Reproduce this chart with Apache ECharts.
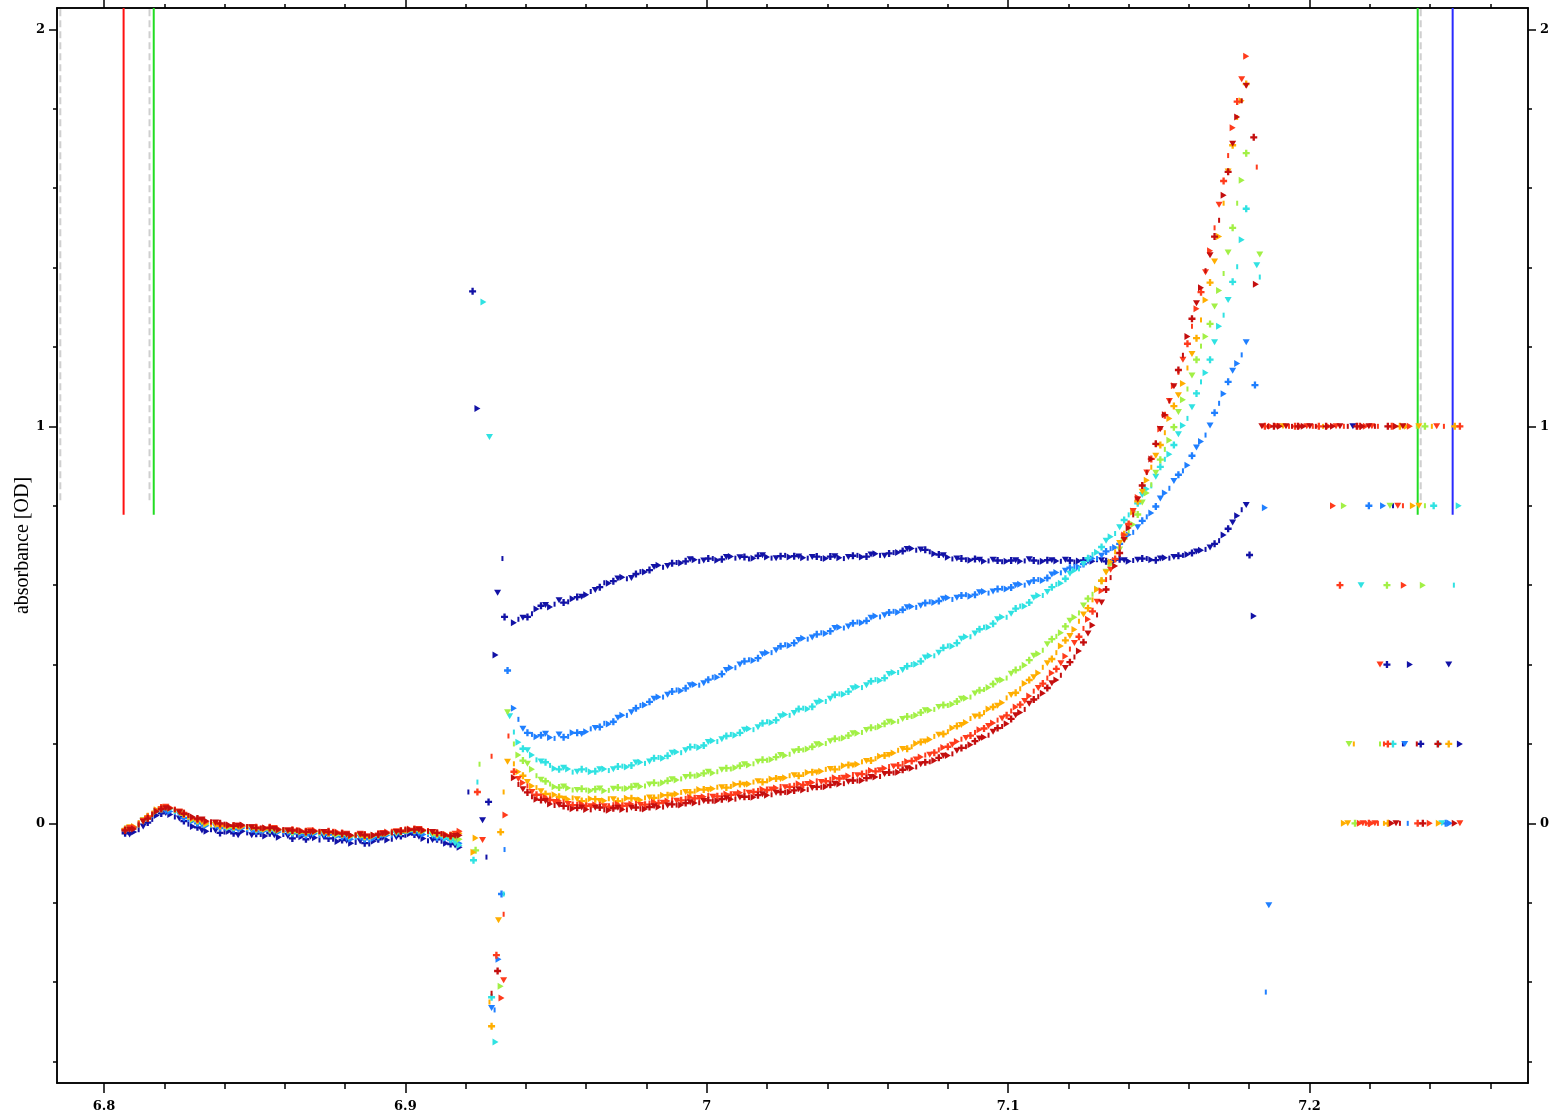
<!DOCTYPE html>
<html>
<head>
<meta charset="utf-8">
<script src="https://cdn.jsdelivr.net/npm/echarts@6/dist/echarts.min.js"></script>
<style>
  html, body { margin: 0; padding: 0; background: #ffffff; }
  #chart { width: 1553px; height: 1118px; }
</style>
</head>
<body>
<div id="chart"></div>
<script>
// ---- axis ranges and ticks ----
const X_MIN = 6.7844, X_MAX = 7.2725;
const Y_MIN = -0.654, Y_MAX = 2.0537;
const xMajorTicks = [6.8, 6.9, 7.0, 7.1, 7.2];
const xTickLabels = ['6.8', '6.9', '7', '7.1', '7.2'];
const xMinorTicks = [6.82, 6.84, 6.86, 6.88, 6.92, 6.94, 6.96, 6.98, 7.02, 7.04, 7.06, 7.08,
                     7.12, 7.14, 7.16, 7.18, 7.22, 7.24, 7.26];
const yMajorTicks = [0, 1, 2];
const yTickLabels = ['0', '1', '2'];
const yMinorTicks = [-0.6, -0.4, -0.2, 0.2, 0.4, 0.6, 0.8, 1.2, 1.4, 1.6, 1.8];

// ---- sampling grids ----
const baseX = [6.807, 6.810, 6.813, 6.816, 6.819, 6.822, 6.825, 6.828, 6.831, 6.834,
               6.837, 6.840, 6.843, 6.846, 6.849, 6.852, 6.855, 6.858, 6.861, 6.864,
               6.867, 6.870, 6.873, 6.876, 6.879, 6.882, 6.885, 6.888, 6.891, 6.894,
               6.897, 6.900, 6.903, 6.906, 6.909, 6.912, 6.915, 6.918];
const BASE_MID_START = 6.8085;               // readings between the baseX samples
const CURVE_START = 6.936, CURVE_MID_START = 6.9375, CURVE_STEP = 0.003;

// ---- spectra: baseline part ----
const base1 = [-0.025,-0.022,-0.008,0.010,0.025,0.022,0.012,-0.002,-0.010,-0.020,-0.018,-0.022,-0.025,-0.020,-0.030,-0.028,-0.025,-0.035,-0.032,-0.030,-0.040,-0.036,-0.035,-0.040,-0.042,-0.050,-0.045,-0.052,-0.040,-0.042,-0.035,-0.030,-0.028,-0.038,-0.042,-0.045,-0.052,-0.060];
const base2 = [-0.018,-0.010,0.006,0.020,0.034,0.030,0.022,0.010,0.000,-0.006,-0.008,-0.012,-0.015,-0.012,-0.018,-0.020,-0.018,-0.022,-0.025,-0.022,-0.030,-0.026,-0.030,-0.028,-0.034,-0.040,-0.036,-0.042,-0.034,-0.030,-0.028,-0.022,-0.022,-0.028,-0.032,-0.036,-0.042,-0.050];
const base3 = [-0.015,-0.010,0.008,0.024,0.038,0.036,0.028,0.018,0.008,0.002,-0.004,-0.006,-0.010,-0.008,-0.012,-0.016,-0.014,-0.016,-0.020,-0.018,-0.024,-0.022,-0.026,-0.024,-0.028,-0.034,-0.030,-0.036,-0.028,-0.024,-0.026,-0.018,-0.016,-0.020,-0.030,-0.032,-0.040,-0.055];
const base4 = [-0.016,-0.012,0.004,0.022,0.036,0.038,0.026,0.016,0.006,-0.002,-0.004,-0.008,-0.010,-0.008,-0.012,-0.014,-0.016,-0.018,-0.020,-0.020,-0.024,-0.022,-0.024,-0.026,-0.028,-0.032,-0.032,-0.034,-0.030,-0.026,-0.024,-0.020,-0.018,-0.020,-0.026,-0.028,-0.034,-0.040];
const base5 = [-0.014,-0.008,0.008,0.026,0.040,0.038,0.028,0.016,0.008,0.000,-0.004,-0.006,-0.008,-0.008,-0.012,-0.014,-0.012,-0.016,-0.020,-0.018,-0.022,-0.020,-0.024,-0.022,-0.026,-0.032,-0.030,-0.034,-0.028,-0.024,-0.022,-0.018,-0.016,-0.018,-0.024,-0.028,-0.030,-0.025];
const base6 = [-0.016,-0.010,0.006,0.024,0.040,0.040,0.030,0.020,0.010,0.004,0.000,-0.004,-0.006,-0.006,-0.010,-0.012,-0.010,-0.014,-0.018,-0.016,-0.020,-0.018,-0.022,-0.020,-0.024,-0.030,-0.026,-0.032,-0.026,-0.022,-0.020,-0.014,-0.014,-0.016,-0.022,-0.026,-0.030,-0.020];
const base7 = [-0.018,-0.014,0.004,0.022,0.036,0.038,0.028,0.020,0.012,0.006,0.002,-0.002,-0.006,-0.004,-0.010,-0.012,-0.012,-0.016,-0.018,-0.018,-0.022,-0.020,-0.022,-0.022,-0.026,-0.030,-0.028,-0.032,-0.028,-0.024,-0.022,-0.016,-0.016,-0.018,-0.022,-0.026,-0.032,-0.030];

const baseMid1 = [-0.028,-0.016,0.002,0.02,0.026,0.016,0.006,-0.008,-0.018,-0.016,-0.024,-0.02,-0.03,-0.024,-0.026,-0.032,-0.03,-0.028,-0.038,-0.034,-0.034,-0.042,-0.038,-0.046,-0.044,-0.048,-0.05,-0.045,-0.036,-0.04,-0.032,-0.026,-0.034,-0.044,-0.04,-0.05,-0.056];
const baseMid2 = [-0.012,-0.004,0.014,0.03,0.03,0.028,0.014,0.006,-0.004,-0.006,-0.012,-0.012,-0.016,-0.016,-0.02,-0.018,-0.022,-0.022,-0.026,-0.028,-0.026,-0.03,-0.028,-0.032,-0.038,-0.036,-0.04,-0.038,-0.03,-0.03,-0.024,-0.02,-0.026,-0.028,-0.036,-0.038,-0.046];
const baseMid3 = [-0.014,0,0.016,0.032,0.04,0.03,0.024,0.012,0.006,-0.002,-0.004,-0.01,-0.008,-0.012,-0.014,-0.014,-0.016,-0.018,-0.02,-0.022,-0.022,-0.026,-0.024,-0.028,-0.03,-0.032,-0.034,-0.03,-0.026,-0.024,-0.022,-0.016,-0.02,-0.024,-0.03,-0.036,-0.05];
const baseMid4 = [-0.014,-0.004,0.012,0.03,0.038,0.032,0.022,0.01,0.002,-0.004,-0.006,-0.01,-0.008,-0.01,-0.014,-0.014,-0.018,-0.018,-0.022,-0.022,-0.022,-0.024,-0.024,-0.028,-0.03,-0.03,-0.034,-0.032,-0.028,-0.024,-0.022,-0.018,-0.02,-0.022,-0.028,-0.03,-0.038];
const baseMid5 = [-0.01,0.002,0.018,0.034,0.04,0.034,0.022,0.012,0.004,-0.002,-0.006,-0.006,-0.01,-0.01,-0.012,-0.014,-0.014,-0.018,-0.018,-0.02,-0.02,-0.022,-0.024,-0.024,-0.028,-0.03,-0.032,-0.03,-0.026,-0.022,-0.02,-0.016,-0.016,-0.02,-0.026,-0.028,-0.03];
const baseMid6 = [-0.012,0,0.016,0.032,0.042,0.036,0.026,0.014,0.008,0.002,-0.002,-0.006,-0.006,-0.008,-0.01,-0.012,-0.012,-0.016,-0.016,-0.018,-0.018,-0.02,-0.02,-0.022,-0.026,-0.028,-0.028,-0.03,-0.024,-0.02,-0.018,-0.014,-0.014,-0.018,-0.024,-0.028,-0.026];
const baseMid7 = [-0.016,-0.004,0.012,0.03,0.038,0.034,0.024,0.016,0.01,0.004,0,-0.004,-0.006,-0.008,-0.012,-0.012,-0.014,-0.016,-0.018,-0.02,-0.022,-0.021,-0.022,-0.024,-0.028,-0.03,-0.03,-0.03,-0.026,-0.024,-0.02,-0.016,-0.016,-0.02,-0.024,-0.03,-0.032];

// ---- spectra: transition spikes [x, absorbance] ----
const spike1 = [[6.9209,0.079],[6.9223,1.34],[6.9239,1.045],[6.9256,0.008],[6.9269,-0.085],[6.9276,0.054],[6.9299,0.424],[6.9306,0.581],[6.9322,0.667],[6.9329,0.52]];
const spike2 = [[6.9329,-0.066],[6.9319,-0.178],[6.9309,-0.342],[6.9286,-0.465],[6.9296,-0.47],[6.9339,0.385]];
const spike3 = [[6.9239,0.104],[6.9226,-0.093],[6.9259,1.313],[6.9279,0.973],[6.9326,-0.178],[6.9286,-0.438],[6.9299,-0.551],[6.9346,0.27]];
const spike4 = [[6.9246,0.149],[6.9233,-0.068],[6.9316,-0.41],[6.9339,0.28]];
const spike5 = [[6.9326,0.079],[6.9316,-0.022],[6.9226,-0.073],[6.9309,-0.244],[6.9279,-0.45],[6.9286,-0.511],[6.9233,-0.037],[6.9339,0.155]];
const spike6 = [[6.9286,0.169],[6.9239,0.079],[6.9332,0.021],[6.9256,-0.042],[6.9326,-0.229],[6.9302,-0.332],[6.9319,-0.44],[6.9326,-0.395],[6.9342,0.22]];
const spike7 = [[6.9286,-0.428],[6.9306,-0.372]];

// ---- spectra: main band (on the curve grid) ----
const curve1 = [0.505,0.518,0.528,0.548,0.545,0.562,0.558,0.57,0.576,0.588,
  0.606,0.61,0.62,0.618,0.634,0.638,0.65,0.648,0.657,0.66,
  0.664,0.662,0.667,0.665,0.672,0.67,0.666,0.674,0.671,0.668,
  0.675,0.673,0.669,0.671,0.667,0.672,0.669,0.671,0.675,0.672,
  0.679,0.674,0.682,0.686,0.692,0.69,0.684,0.677,0.67,0.667,
  0.664,0.666,0.66,0.664,0.659,0.662,0.66,0.665,0.658,0.663,
  0.661,0.664,0.658,0.662,0.66,0.663,0.659,0.665,0.66,0.664,
  0.667,0.663,0.669,0.671,0.675,0.681,0.688,0.695,0.712,0.742,
  0.775,0.802];
const curve2 = [0.29,0.238,0.224,0.222,0.216,0.224,0.219,0.228,0.231,0.24,
  0.252,0.256,0.272,0.28,0.297,0.306,0.318,0.324,0.336,0.34,
  0.35,0.353,0.368,0.376,0.392,0.4,0.412,0.416,0.43,0.436,
  0.45,0.454,0.466,0.468,0.48,0.484,0.494,0.496,0.507,0.51,
  0.522,0.524,0.534,0.538,0.546,0.548,0.558,0.56,0.568,0.568,
  0.576,0.576,0.584,0.584,0.592,0.594,0.602,0.605,0.614,0.618,
  0.632,0.636,0.647,0.653,0.667,0.674,0.692,0.704,0.727,0.746,
  0.772,0.798,0.832,0.862,0.888,0.926,0.962,1.002,1.058,1.112,
  1.158,1.212];
const curve3 = [0.23,0.188,0.172,0.156,0.146,0.136,0.137,0.13,0.135,0.131,
  0.137,0.136,0.144,0.146,0.154,0.156,0.166,0.17,0.18,0.184,
  0.194,0.196,0.208,0.212,0.224,0.228,0.238,0.242,0.256,0.26,
  0.274,0.278,0.29,0.294,0.308,0.314,0.326,0.332,0.344,0.348,
  0.362,0.366,0.38,0.386,0.4,0.408,0.422,0.43,0.447,0.454,
  0.47,0.478,0.494,0.503,0.52,0.528,0.547,0.556,0.574,0.583,
  0.602,0.616,0.637,0.653,0.677,0.696,0.722,0.746,0.777,0.806,
  0.842,0.873,0.917,0.953,1.002,1.048,1.112,1.168,1.252,1.318,
  1.402,1.548];
const curve4 = [0.2,0.158,0.136,0.11,0.099,0.09,0.089,0.084,0.084,0.086,
  0.082,0.087,0.087,0.092,0.093,0.098,0.099,0.107,0.109,0.117,
  0.119,0.126,0.127,0.135,0.137,0.145,0.147,0.155,0.159,0.167,
  0.171,0.181,0.185,0.193,0.199,0.207,0.213,0.221,0.227,0.235,
  0.241,0.251,0.255,0.263,0.269,0.279,0.285,0.293,0.297,0.307,
  0.315,0.327,0.337,0.351,0.361,0.377,0.391,0.411,0.427,0.451,
  0.471,0.496,0.519,0.549,0.577,0.611,0.652,0.69,0.737,0.778,
  0.832,0.883,0.942,0.998,1.067,1.128,1.202,1.258,1.342,1.438,
  1.562,1.688];
const curve5 = [0.15,0.12,0.094,0.081,0.071,0.067,0.061,0.061,0.057,0.061,
  0.057,0.061,0.057,0.063,0.059,0.065,0.067,0.071,0.074,0.079,
  0.081,0.085,0.087,0.091,0.093,0.099,0.099,0.106,0.107,0.113,
  0.115,0.121,0.123,0.129,0.131,0.137,0.139,0.147,0.149,0.157,
  0.163,0.171,0.177,0.187,0.193,0.205,0.211,0.223,0.231,0.245,
  0.254,0.269,0.279,0.293,0.304,0.323,0.339,0.361,0.379,0.403,
  0.43,0.461,0.488,0.526,0.563,0.611,0.659,0.706,0.754,0.811,
  0.864,0.926,0.984,1.051,1.108,1.182,1.268,1.362,1.478,1.642,
  1.778,1.862];
const curve6 = [0.13,0.102,0.079,0.069,0.059,0.056,0.049,0.048,0.044,0.047,
  0.043,0.047,0.044,0.049,0.046,0.051,0.051,0.056,0.057,0.063,
  0.063,0.067,0.067,0.071,0.072,0.077,0.077,0.083,0.084,0.089,
  0.091,0.096,0.097,0.103,0.104,0.111,0.113,0.119,0.121,0.129,
  0.131,0.139,0.143,0.151,0.157,0.167,0.173,0.185,0.193,0.206,
  0.215,0.229,0.239,0.253,0.264,0.283,0.299,0.321,0.341,0.366,
  0.389,0.421,0.454,0.491,0.534,0.586,0.639,0.696,0.754,0.821,
  0.884,0.956,1.028,1.102,1.168,1.252,1.338,1.442,1.558,1.682,
  1.818,1.932];
const curve7 = [0.115,0.086,0.067,0.059,0.049,0.046,0.039,0.039,0.035,0.039,
  0.034,0.038,0.035,0.039,0.036,0.041,0.041,0.045,0.046,0.051,
  0.051,0.056,0.056,0.061,0.061,0.065,0.065,0.071,0.071,0.077,
  0.078,0.083,0.084,0.089,0.091,0.097,0.099,0.105,0.107,0.114,
  0.117,0.124,0.127,0.135,0.139,0.149,0.155,0.165,0.171,0.183,
  0.193,0.207,0.217,0.231,0.244,0.263,0.279,0.301,0.319,0.341,
  0.361,0.391,0.419,0.456,0.499,0.556,0.619,0.681,0.744,0.816,
  0.884,0.956,1.029,1.101,1.179,1.271,1.349,1.431,1.519,1.641,
  1.779,1.858];

// readings between the curve-grid samples
const curveMid1 = [0.514,0.52,0.54,0.55,0.552,0.556,0.566,0.571,0.584,0.595,
  0.605,0.617,0.616,0.628,0.633,0.646,0.645,0.655,0.656,0.665,
  0.66,0.667,0.663,0.671,0.668,0.671,0.668,0.675,0.668,0.673,
  0.671,0.672,0.668,0.672,0.667,0.673,0.667,0.674,0.671,0.677,
  0.675,0.68,0.682,0.691,0.688,0.689,0.679,0.675,0.666,0.667,
  0.663,0.664,0.661,0.662,0.66,0.663,0.661,0.662,0.66,0.663,
  0.66,0.662,0.661,0.66,0.664,0.66,0.662,0.663,0.662,0.667,
  0.664,0.667,0.668,0.674,0.677,0.685,0.69,0.704,0.726,0.758,
  0.79];
const curveMid2 = [0.262,0.228,0.218,0.226,0.214,0.217,0.228,0.225,0.238,0.243,
  0.25,0.266,0.272,0.29,0.298,0.314,0.318,0.332,0.334,0.348,
  0.348,0.362,0.368,0.386,0.392,0.408,0.41,0.426,0.43,0.446,
  0.448,0.462,0.464,0.476,0.478,0.492,0.492,0.504,0.505,0.518,
  0.52,0.531,0.532,0.544,0.544,0.555,0.556,0.566,0.564,0.574,
  0.572,0.582,0.58,0.59,0.59,0.6,0.6,0.612,0.612,0.627,
  0.631,0.644,0.646,0.662,0.667,0.685,0.695,0.718,0.733,0.762,
  0.782,0.818,0.844,0.878,0.902,0.947,0.978,1.034,1.082,1.14,
  1.18];
const curveMid3 = [0.204,0.184,0.16,0.154,0.138,0.14,0.129,0.136,0.13,0.136,
  0.133,0.143,0.142,0.153,0.151,0.164,0.164,0.178,0.178,0.192,
  0.191,0.205,0.206,0.22,0.222,0.236,0.236,0.252,0.254,0.27,
  0.272,0.288,0.288,0.304,0.307,0.324,0.325,0.34,0.342,0.358,
  0.36,0.376,0.38,0.396,0.401,0.418,0.422,0.442,0.446,0.465,
  0.47,0.489,0.494,0.514,0.519,0.541,0.547,0.568,0.574,0.595,
  0.605,0.629,0.641,0.668,0.683,0.712,0.73,0.764,0.787,0.827,
  0.85,0.898,0.93,0.98,1.02,1.083,1.135,1.212,1.28,1.364,
  1.47];
const curveMid4 = [0.172,0.15,0.12,0.106,0.092,0.093,0.084,0.087,0.082,0.088,
  0.083,0.09,0.088,0.095,0.094,0.102,0.102,0.111,0.112,0.121,
  0.121,0.13,0.13,0.139,0.14,0.149,0.15,0.16,0.161,0.172,
  0.174,0.186,0.187,0.199,0.201,0.213,0.215,0.227,0.229,0.241,
  0.244,0.256,0.257,0.269,0.272,0.285,0.287,0.298,0.3,0.314,
  0.318,0.335,0.342,0.359,0.366,0.386,0.398,0.422,0.436,0.464,
  0.48,0.51,0.53,0.566,0.59,0.634,0.666,0.717,0.753,0.808,
  0.853,0.916,0.965,1.036,1.094,1.168,1.226,1.302,1.385,1.5,
  1.62];
const curveMid5 = [0.13,0.104,0.09,0.074,0.072,0.062,0.064,0.056,0.062,0.056,
  0.062,0.056,0.063,0.058,0.064,0.064,0.071,0.07,0.078,0.078,
  0.085,0.084,0.091,0.09,0.098,0.097,0.104,0.104,0.112,0.112,
  0.12,0.12,0.128,0.128,0.136,0.136,0.145,0.146,0.155,0.158,
  0.169,0.172,0.184,0.188,0.201,0.206,0.219,0.225,0.24,0.248,
  0.264,0.272,0.288,0.296,0.316,0.329,0.352,0.368,0.393,0.414,
  0.447,0.472,0.509,0.542,0.589,0.632,0.684,0.728,0.784,0.835,
  0.897,0.953,1.02,1.078,1.147,1.222,1.318,1.415,1.562,1.708,
  1.82];
const curveMid6 = [0.112,0.094,0.072,0.066,0.054,0.054,0.046,0.049,0.043,0.048,
  0.042,0.048,0.045,0.05,0.047,0.054,0.052,0.059,0.058,0.066,
  0.064,0.07,0.068,0.074,0.073,0.08,0.079,0.086,0.085,0.093,
  0.092,0.1,0.099,0.107,0.106,0.115,0.115,0.123,0.124,0.133,
  0.134,0.143,0.146,0.156,0.161,0.172,0.178,0.191,0.198,0.212,
  0.221,0.236,0.245,0.26,0.272,0.293,0.308,0.333,0.352,0.379,
  0.403,0.439,0.47,0.514,0.558,0.614,0.666,0.726,0.787,0.853,
  0.918,0.993,1.064,1.136,1.208,1.296,1.388,1.5,1.618,1.752,
  1.874];
const curveMid7 = [0.098,0.078,0.061,0.056,0.045,0.044,0.037,0.04,0.034,0.04,
  0.033,0.039,0.034,0.04,0.036,0.043,0.041,0.048,0.046,0.053,
  0.052,0.058,0.057,0.063,0.061,0.067,0.066,0.073,0.072,0.079,
  0.079,0.086,0.085,0.092,0.092,0.1,0.1,0.108,0.108,0.117,
  0.118,0.128,0.129,0.139,0.142,0.154,0.158,0.17,0.175,0.19,
  0.198,0.214,0.222,0.24,0.251,0.272,0.287,0.312,0.328,0.353,
  0.373,0.406,0.434,0.478,0.525,0.589,0.648,0.714,0.777,0.851,
  0.918,0.993,1.064,1.142,1.226,1.31,1.392,1.478,1.582,1.712,
  1.82];

// ---- spectra: trailing points beyond the band [x, absorbance] ----
const tail1 = [[7.1801,0.676],[7.1815,0.522],
  [7.2144,1],[7.2277,0.8],[7.2257,0.4],[7.2333,0.4],[7.2462,0.4],[7.2310,0.2],[7.2369,0.2],[7.2499,0.2]];
const tail2 = [[7.1819,1.104],[7.1852,0.795],[7.1865,-0.206],[7.1855,-0.425],
  [7.2197,0.8],[7.2244,0.8],[7.2316,0.2],[7.2326,0],[7.2452,0],[7.2466,0]];
const tail3 = [[7.1825,1.406],[7.1835,1.376],
  [7.2412,0.8],[7.2495,0.8],[7.2171,0.6],[7.2479,0.6],[7.2277,0.2],[7.2432,0.2],[7.2439,0]];
const tail4 = [[7.1835,1.433],
  [7.2356,1],[7.2383,1],[7.2114,0.8],[7.2267,0.8],[7.2383,0.8],[7.2257,0.6],[7.2376,0.6],
  [7.2131,0.2],[7.2234,0.2],[7.2151,0]];
const tail5 = [[7.1912,1],[7.2045,1],[7.2300,1],[7.2323,1],[7.2363,1],[7.2406,1],[7.2482,1],
  [7.2343,0.8],[7.2363,0.8],[7.2147,0.2],[7.2462,0.2],
  [7.2114,0],[7.2127,0],[7.2247,0],[7.2260,0],[7.2429,0]];
const tail6 = [[7.1825,1.653],
  [7.1852,1],[7.1872,1],[7.1892,1],[7.1932,1],[7.1952,1],[7.1971,1],[7.1991,1],[7.2011,1],[7.2031,1],
  [7.2064,1],[7.2088,1],[7.2114,1],[7.2167,1],[7.2187,1],[7.2207,1],[7.2227,1],[7.2273,1],[7.2333,1],
  [7.2422,1],[7.2446,1],[7.2499,1],
  [7.2078,0.8],[7.2293,0.8],[7.2310,0.8],[7.2101,0.6],[7.2313,0.6],[7.2234,0.4],
  [7.2247,0.2],[7.2260,0.2],
  [7.2167,0],[7.2177,0],[7.2187,0],[7.2197,0],[7.2207,0],[7.2217,0],[7.2227,0],[7.2359,0],[7.2399,0],[7.2499,0]];
const tail7 = [[7.1815,1.728],[7.1822,1.358],
  [7.1842,1],[7.1862,1],[7.1882,1],[7.1902,1],[7.1922,1],[7.1942,1],[7.1962,1],[7.1981,1],[7.2001,1],
  [7.2021,1],[7.2055,1],[7.2078,1],[7.2101,1],[7.2127,1],[7.2157,1],[7.2177,1],[7.2197,1],[7.2217,1],
  [7.2260,1],[7.2287,1],[7.2310,1],
  [7.2356,0.2],[7.2426,0.2],
  [7.2273,0],[7.2287,0],[7.2300,0],[7.2376,0],[7.2482,0]];

const spectrumColors = ['#1212a6', '#1f7fff', '#30e2e2', '#a2f046', '#ffae00', '#ff3b1c', '#c40e0e'];
const bases = [base1, base2, base3, base4, base5, base6, base7];
const baseMids = [baseMid1, baseMid2, baseMid3, baseMid4, baseMid5, baseMid6, baseMid7];
const spikes = [spike1, spike2, spike3, spike4, spike5, spike6, spike7];
const curves = [curve1, curve2, curve3, curve4, curve5, curve6, curve7];
const curveMids = [curveMid1, curveMid2, curveMid3, curveMid4, curveMid5, curveMid6, curveMid7];
const tails = [tail1, tail2, tail3, tail4, tail5, tail6, tail7];

// ---- cursor / reference lines: x, bottom, colour, dashed ----
const markerLines = [
  { x: 6.7855, y0: 0.814, color: '#cfcfcf', dashed: true },
  { x: 6.8151, y0: 0.814, color: '#cfcfcf', dashed: true },
  { x: 7.2369, y0: 0.814, color: '#cfcfcf', dashed: true },
  { x: 6.8065, y0: 0.777, color: '#ff1010', dashed: false },
  { x: 6.8165, y0: 0.777, color: '#22dd22', dashed: false },
  { x: 7.2359, y0: 0.777, color: '#22dd22', dashed: false },
  { x: 7.2475, y0: 0.777, color: '#2a2aff', dashed: false }
];

// point markers: plus, right triangle, down triangle, short bar
const SHAPES = [
  'path://M2,0h2v2h2v2h-2v2h-2v-2h-2v-2h2z',
  'path://M0,0L6,3L0,6Z',
  'path://M0,0L6,0L3,5Z',
  'rect'
];
const SIZES = [[7, 7], [6, 7], [7, 6], [2, 5]];

const at = (start, i) => +(start + i * CURVE_STEP).toFixed(4);

function spectrumPoints(k) {
  const pts = [];
  bases[k].forEach((y, i) => pts.push([baseX[i], y]));
  baseMids[k].forEach((y, i) => pts.push([at(BASE_MID_START, i), y]));
  spikes[k].forEach(p => pts.push(p));
  curves[k].forEach((y, i) => pts.push([at(CURVE_START, i), y]));
  curveMids[k].forEach((y, i) => pts.push([at(CURVE_MID_START, i), y]));
  tails[k].forEach(p => pts.push(p));
  return pts;
}

const FONT = '"DejaVu Serif", "Liberation Serif", serif';
const AX = { color: '#000', width: 1.5 };

function labelFrom(ticks, labels) {
  return v => {
    const i = ticks.findIndex(t => Math.abs(t - v) < 1e-6);
    return i >= 0 ? labels[i] : '';
  };
}

function xAxisDef(pos, ticks, len, withLabels) {
  return {
    type: 'value', position: pos, min: X_MIN, max: X_MAX,
    axisLine: { show: true, onZero: false, lineStyle: AX },
    axisTick: { show: true, inside: false, length: len, customValues: ticks, lineStyle: AX },
    axisLabel: withLabels ? {
      show: true, customValues: ticks, margin: 17, color: '#000',
      fontFamily: FONT, fontSize: 13, fontWeight: 'bold',
      formatter: labelFrom(xMajorTicks, xTickLabels)
    } : { show: false },
    splitLine: { show: false }
  };
}

function yAxisDef(pos, ticks, len, withLabels, name) {
  const a = {
    type: 'value', position: pos, min: Y_MIN, max: Y_MAX,
    axisLine: { show: true, onZero: false, lineStyle: AX },
    axisTick: { show: true, inside: false, length: len, customValues: ticks, lineStyle: AX },
    axisLabel: withLabels ? {
      show: true, customValues: ticks, margin: 12, color: '#000',
      fontFamily: FONT, fontSize: 13, fontWeight: 'bold',
      formatter: labelFrom(yMajorTicks, yTickLabels)
    } : { show: false },
    splitLine: { show: false }
  };
  if (name) {
    a.name = name;
    a.nameLocation = 'middle';
    a.nameGap = 24;
    a.nameMoveOverlap = false;
    a.nameTextStyle = { fontFamily: '"Liberation Serif", "DejaVu Serif", serif', fontSize: 20, color: '#000' };
  }
  return a;
}

const series = [];
markerLines.forEach(m => {
  series.push({
    type: 'line', xAxisIndex: 0, yAxisIndex: 0, silent: true, symbol: 'none',
    data: [[m.x, m.y0], [m.x, Y_MAX]],
    lineStyle: { color: m.color, width: 2, type: m.dashed ? [7, 4] : 'solid' },
    z: 1
  });
});
spectrumColors.forEach((c, k) => {
  series.push({
    type: 'scatter', name: 'spectrum ' + (k + 1), xAxisIndex: 0, yAxisIndex: 0,
    data: spectrumPoints(k),
    symbol: (v, p) => SHAPES[p.dataIndex % 4],
    symbolSize: (v, p) => SIZES[p.dataIndex % 4],
    itemStyle: { color: c, opacity: 1 },
    z: 2 + k,
    animation: false
  });
});

const chart = echarts.init(document.getElementById('chart'), null, { renderer: 'canvas' });
chart.setOption({
  animation: false,
  backgroundColor: '#ffffff',
  grid: { left: 57, right: 25, top: 8, bottom: 35, containLabel: false, outerBoundsMode: 'none' },
  xAxis: [
    xAxisDef('bottom', xMajorTicks, 10, true),
    xAxisDef('bottom', xMinorTicks, 6, false),
    xAxisDef('top', xMajorTicks, 8, false),
    xAxisDef('top', xMinorTicks, 4, false)
  ],
  yAxis: [
    yAxisDef('left', yMajorTicks, 8, true, 'absorbance [OD]'),
    yAxisDef('left', yMinorTicks, 4, false),
    yAxisDef('right', yMajorTicks, 8, true),
    yAxisDef('right', yMinorTicks, 4, false)
  ],
  series: series
});
</script>
</body>
</html>
